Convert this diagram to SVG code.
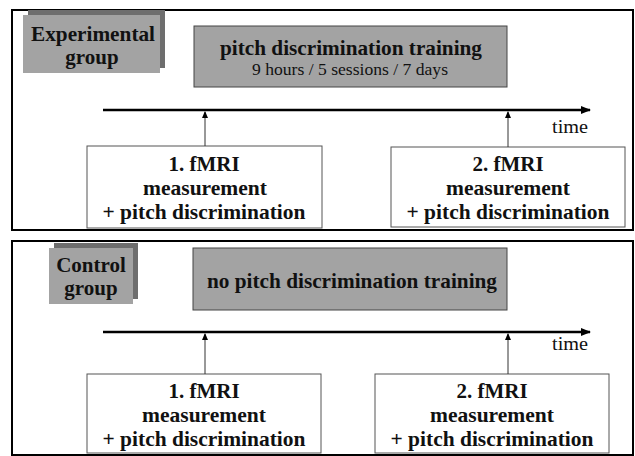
<svg xmlns="http://www.w3.org/2000/svg" width="635" height="456" viewBox="0 0 635 456">
<defs>
<style>
.panel{fill:#fff;stroke:#000;stroke-width:2}
.gray{fill:#a3a3a3;stroke:#444;stroke-width:1}
.shadow{fill:#6e6e6e}
.box{fill:#fff;stroke:#555;stroke-width:1}
text{font-family:"Liberation Serif","Times New Roman",Times,"DejaVu Serif",serif;fill:#111;text-anchor:middle}
.b{font-weight:bold;font-size:21px}
.r{font-size:16px}
.t{font-size:19px}
.tl{stroke:#000;stroke-width:2.5;fill:none}
.up{stroke:#333;stroke-width:1;fill:none}
</style>
<marker id="big" viewBox="0 0 10 8" refX="9" refY="4" markerWidth="10" markerHeight="8" markerUnits="userSpaceOnUse" orient="auto"><path d="M0,0 L10,4 L0,8 z" fill="#000"/></marker>
<marker id="small" viewBox="0 0 6 8" refX="3" refY="1" markerWidth="6" markerHeight="8" markerUnits="userSpaceOnUse" orient="0"><path d="M3,0 L6,7 L0,7 z" fill="#000"/></marker>
</defs>
<rect class="panel" x="12" y="10" width="621" height="220"/>
<rect class="panel" x="12" y="241" width="621" height="214"/>

<g id="experimental-group">
<rect class="shadow" x="28" y="10" width="137" height="58"/>
<rect x="23" y="15" width="137" height="58" fill="#a3a3a3"/>
<text class="b" x="93" y="41" textLength="124" lengthAdjust="spacingAndGlyphs">Experimental</text>
<text class="b" x="92" y="64">group</text>
</g>
<g id="training">
<rect class="gray" x="194" y="26" width="313" height="61"/>
<text class="b" x="351" y="55" textLength="262" lengthAdjust="spacingAndGlyphs">pitch discrimination training</text>
<text class="r" x="350" y="75" textLength="196" lengthAdjust="spacingAndGlyphs">9 hours / 5 sessions / 7 days</text>
</g>
<g id="time-top"><text class="t" x="570" y="133" textLength="36" lengthAdjust="spacingAndGlyphs">time</text></g>
<g id="fmri1-top">
<rect class="box" x="87" y="146" width="235" height="82"/>
<text class="b" x="204" y="171">1. fMRI</text>
<text class="b" x="205" y="195" textLength="124" lengthAdjust="spacingAndGlyphs">measurement</text>
<text class="b" x="204" y="219" textLength="203" lengthAdjust="spacingAndGlyphs">+ pitch discrimination</text>
</g>
<g id="fmri2-top">
<rect class="box" x="391" y="147" width="234" height="80"/>
<text class="b" x="508" y="171">2. fMRI</text>
<text class="b" x="508" y="195" textLength="124" lengthAdjust="spacingAndGlyphs">measurement</text>
<text class="b" x="508" y="219" textLength="203" lengthAdjust="spacingAndGlyphs">+ pitch discrimination</text>
</g>

<g id="control-group">
<rect class="shadow" x="54" y="243" width="84" height="56"/>
<rect x="49" y="248" width="84" height="56" fill="#a3a3a3"/>
<text class="b" x="91" y="272">Control</text>
<text class="b" x="91" y="295">group</text>
</g>
<g id="no-training">
<rect class="gray" x="193" y="248" width="314" height="62"/>
<text class="b" x="352" y="288" textLength="290" lengthAdjust="spacingAndGlyphs">no pitch discrimination training</text>
</g>
<g id="time-bottom"><text class="t" x="570" y="350" textLength="36" lengthAdjust="spacingAndGlyphs">time</text></g>
<g id="fmri1-bottom">
<rect class="box" x="87" y="374" width="234" height="79"/>
<text class="b" x="204" y="398">1. fMRI</text>
<text class="b" x="204" y="422" textLength="124" lengthAdjust="spacingAndGlyphs">measurement</text>
<text class="b" x="204" y="446" textLength="203" lengthAdjust="spacingAndGlyphs">+ pitch discrimination</text>
</g>
<g id="fmri2-bottom">
<rect class="box" x="375" y="374" width="234" height="79"/>
<text class="b" x="492" y="398">2. fMRI</text>
<text class="b" x="492" y="422" textLength="124" lengthAdjust="spacingAndGlyphs">measurement</text>
<text class="b" x="492" y="446" textLength="203" lengthAdjust="spacingAndGlyphs">+ pitch discrimination</text>
</g>

<g id="connectors">
<line class="tl" x1="103" y1="110" x2="590" y2="110" marker-end="url(#big)"/>
<line class="up" x1="205" y1="146" x2="205" y2="112" marker-end="url(#small)"/>
<line class="up" x1="508" y1="147" x2="508" y2="112" marker-end="url(#small)"/>
<line class="tl" x1="103" y1="332" x2="590" y2="332" marker-end="url(#big)"/>
<line class="up" x1="205" y1="374" x2="205" y2="334" marker-end="url(#small)"/>
<line class="up" x1="508" y1="374" x2="508" y2="334" marker-end="url(#small)"/>
</g>
</svg>
